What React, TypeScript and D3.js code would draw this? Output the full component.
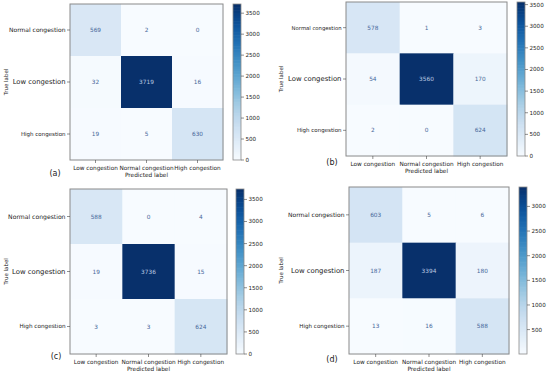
import React from "react";
import * as d3 from "d3";

const predictedLabels = ["Low congestion", "Normal congestion", "High congestion"];
const trueLabels = ["Normal congestion", "Low congestion", "High congestion"];

const matrixA = [
  [569, 2, 0],
  [32, 3719, 16],
  [19, 5, 630],
];
const matrixB = [
  [578, 1, 3],
  [54, 3560, 170],
  [2, 0, 624],
];
const matrixC = [
  [588, 0, 4],
  [19, 3736, 15],
  [3, 3, 624],
];
const matrixD = [
  [603, 5, 6],
  [187, 3394, 180],
  [13, 16, 588],
];

const ticksABC = [0, 500, 1000, 1500, 2000, 2500, 3000, 3500];
const ticksD = [500, 1000, 1500, 2000, 2500, 3000];

const panelNames = ["(a)", "(b)", "(c)", "(d)"];

// layout of each panel: plot box, colorbar x, y-label font sizes, tag spot
const layouts = [
  { x: 70, y: 4, w: 153, h: 156, cbx: 233, ylabSizes: [6, 6.8, 5.5], tagX: 55, tagY: 176, titleX: 6 },
  { x: 346, y: 2, w: 161, h: 154, cbx: 517, ylabSizes: [5.3, 6.9, 5.5], tagX: 332, tagY: 165, titleX: 281 },
  { x: 70, y: 189, w: 157, h: 165, cbx: 236, ylabSizes: [6.1, 6.9, 5.7], tagX: 56, tagY: 359, titleX: 6 },
  { x: 349, y: 187, w: 160, h: 167, cbx: 519, ylabSizes: [6, 6.9, 5.6], tagX: 332, tagY: 362, titleX: 281 },
];

const matrices = [matrixA, matrixB, matrixC, matrixD];
const tickSets = [ticksABC, ticksABC, ticksABC, ticksD];

const font = "DejaVu Sans, sans-serif";

function Panel({ idx }: { idx: number }) {
  const m = matrices[idx];
  const L = layouts[idx];
  const flat = m.flat();
  const vmin = d3.min(flat)!;
  const vmax = d3.max(flat)!;
  const color = d3.scaleSequential(d3.interpolateBlues).domain([vmin, vmax]);
  const xs = d3.scaleBand<number>().domain([0, 1, 2]).range([L.x, L.x + L.w]);
  const ys = d3.scaleBand<number>().domain([0, 1, 2]).range([L.y, L.y + L.h]);
  const cb = d3.scaleLinear().domain([vmin, vmax]).range([L.y + L.h, L.y]);
  const cbW = 8;
  const steps = d3.range(0, 100);
  const thresh = (vmin + vmax) / 2;
  const clipId = `cb${idx}`;

  return (
    <g fontFamily={font}>
      {m.map((row, r) =>
        row.map((v, c) => (
          <g key={`${r}-${c}`}>
            <rect
              x={xs(c)!}
              y={ys(r)!}
              width={xs.bandwidth() + 0.5}
              height={ys.bandwidth() + 0.5}
              fill={color(v)}
            />
            <text
              x={xs(c)! + xs.bandwidth() / 2}
              y={ys(r)! + ys.bandwidth() / 2}
              dy="0.35em"
              textAnchor="middle"
              fontSize={5.8}
              fill={v > thresh ? "#b9c9e1" : "#47689a"}
            >
              {v}
            </text>
          </g>
        ))
      )}
      <rect x={L.x} y={L.y} width={L.w} height={L.h} fill="none" stroke="#8a8a8a" strokeWidth={1} />
      {/* y ticks */}
      {trueLabels.map((lab, r) => {
        const cy = ys(r)! + ys.bandwidth() / 2;
        return (
          <g key={lab}>
            <line x1={L.x - 3} x2={L.x} y1={cy} y2={cy} stroke="#444" strokeWidth={0.6} />
            <text x={L.x - 4.5} y={cy} dy="0.35em" textAnchor="end" fontSize={L.ylabSizes[r]} fill="#222">
              {lab}
            </text>
          </g>
        );
      })}
      {/* x ticks */}
      {predictedLabels.map((lab, c) => {
        const cx = xs(c)! + xs.bandwidth() / 2;
        return (
          <g key={lab}>
            <line x1={cx} x2={cx} y1={L.y + L.h} y2={L.y + L.h + 3} stroke="#444" strokeWidth={0.6} />
            <text x={cx} y={L.y + L.h + 9.5} textAnchor="middle" fontSize={5.75} fill="#222">
              {lab}
            </text>
          </g>
        );
      })}
      <text x={L.x + L.w / 2} y={L.y + L.h + 17} textAnchor="middle" fontSize={5.8} fill="#222">
        Predicted label
      </text>
      <text
        transform={`translate(${L.titleX + 2},${L.y + L.h / 2}) rotate(-90)`}
        textAnchor="middle"
        fontSize={5.5}
        fill="#222"
      >
        True label
      </text>
      <text x={L.tagX} y={L.tagY} textAnchor="middle" fontSize={8} fill="#222">
        {panelNames[idx]}
      </text>
      {/* colorbar */}
      <clipPath id={clipId}>
        <rect x={L.cbx} y={L.y} width={cbW} height={L.h} />
      </clipPath>
      <g clipPath={`url(#${clipId})`}>
        {steps.map((s) => {
          const v0 = vmin + ((vmax - vmin) * s) / steps.length;
          const v1 = vmin + ((vmax - vmin) * (s + 1)) / steps.length;
          return (
            <rect
              key={s}
              x={L.cbx}
              y={cb(v1)}
              width={cbW}
              height={cb(v0) - cb(v1) + 0.6}
              fill={color((v0 + v1) / 2)}
            />
          );
        })}
      </g>
      <rect x={L.cbx} y={L.y} width={cbW} height={L.h} fill="none" stroke="#8a8a8a" strokeWidth={0.8} />
      {tickSets[idx].map((t) => (
        <g key={t}>
          <line x1={L.cbx + cbW} x2={L.cbx + cbW + 3} y1={cb(t)} y2={cb(t)} stroke="#444" strokeWidth={0.6} />
          <text x={L.cbx + cbW + 4.5} y={cb(t)} dy="0.35em" fontSize={5.6} fill="#222">
            {t}
          </text>
        </g>
      ))}
    </g>
  );
}

export default function App() {
  return (
    <svg
      width={550}
      height={377}
      style={{ position: "absolute", left: 0, top: 0, background: "#fff" }}
    >
      <rect width={550} height={377} fill="#fff" />
      {[0, 1, 2, 3].map((i) => (
        <Panel key={i} idx={i} />
      ))}
    </svg>
  );
}
